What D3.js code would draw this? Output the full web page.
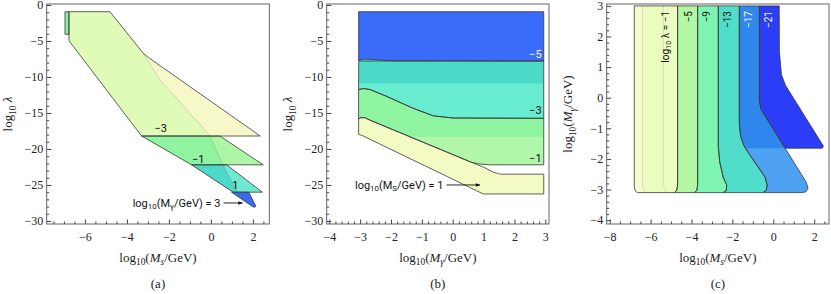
<!DOCTYPE html>
<html>
<head>
<meta charset="utf-8">
<script src="https://cdn.jsdelivr.net/npm/d3@7"></script>
<style>
body { margin: 0; background: #fff; }
svg { display: block; }
.tick text { font-family: "Liberation Serif", "DejaVu Serif", serif; font-size: 12px; fill: #222; }
.tick line { stroke: #444; }
.ax { font-family: "Liberation Serif", serif; font-size: 13px; fill: #222; }
.lbl { font-family: Roboto, "Open Sans", sans-serif; }
</style>
</head>
<body>
<svg id="chart" width="831" height="294"></svg>
<script>

// ---- panel (a): log10 lambda vs log10 Ms, one band per log10 Mgamma
var aXTicks = [-6, -4, -2, 0, 2];
var lamTicks = [0, -5, -10, -15, -20, -25, -30];
var aYellow = [[-6.76,-0.93],[-4.81,-0.93],[-3.22,-6.71],[-2.9,-7.45],[2.35,-18.2],[-3.3,-18.2],[-6.58,-5.65],[-6.7,-5.2],[-6.76,-4.9]];
var aBody   = [[-6.76,-0.93],[-4.81,-0.93],[-3.22,-6.71],[-2.43,-10.4],[-1.56,-13.2],[-1.16,-14.6],[-0.5,-16.6],[-0.05,-18.2],[-3.3,-18.2],[-6.58,-5.65],[-6.7,-5.2],[-6.76,-4.9]];
var aStrip  = [[-6.95,-0.93],[-6.76,-0.93],[-6.76,-4.07],[-6.95,-4.07]];
var aGreen  = [[-3.3,-18.2],[0.43,-18.2],[2.49,-22.2],[-0.92,-22.2]];
var aGreenL = [[-3.3,-18.2],[-0.05,-18.2],[0.58,-22.2],[-0.92,-22.2]];
var aTeal   = [[-0.92,-22.2],[0.75,-22.2],[2.45,-26.0],[1.06,-26.0]];
var aTealL  = [[-0.92,-22.2],[0.58,-22.2],[1.25,-26.0],[1.06,-26.0]];
var aBlue   = [[0.98,-26.0],[1.8,-26.0],[2.14,-27.95],[2.07,-28.1],[1.98,-28.0]];
var aHidden = [[-3.22,-6.71],[-2.43,-10.4],[-1.56,-13.2],[-1.16,-14.6],[-0.5,-16.6],[-0.05,-18.2],[0.58,-22.2],[1.25,-26.0]];
var aLabels = ["\u22123", "\u22121", "1"];
var aLabelAt = [[-2.39,-17.2],[-0.6,-21.4],[1.16,-25.1]];
var aArrow = [[0.6,-27.5],[1.5,-27.5]];

// ---- panel (b): log10 lambda vs log10 Mgamma, one band per log10 Ms
var bXTicks = [-4, -3, -2, -1, 0, 1, 2, 3];
var bBlue  = [[-3.05,-0.93],[2.95,-0.93],[2.95,-7.78],[-3.05,-7.78]];
var bTeal  = [[-3.05,-7.95],[-3.0,-7.6],[-2.85,-7.5],[-2.5,-7.6],[-2.0,-7.74],[2.95,-7.78],[2.95,-15.74],[0.02,-15.7],[-0.63,-15.4],[-1.28,-14.35],[-2.14,-12.7],[-2.68,-11.74],[-2.9,-11.6],[-3.05,-11.75]];
var bTealL = [[-3.05,-10.9],[2.95,-10.9],[2.95,-15.74],[0.02,-15.7],[-0.63,-15.4],[-1.28,-14.35],[-2.14,-12.7],[-2.68,-11.74],[-2.9,-11.6],[-3.05,-11.75]];
var bGreen = [[-3.05,-11.75],[-2.9,-11.6],[-2.68,-11.74],[-2.14,-12.7],[-1.28,-14.35],[-0.63,-15.4],[0.02,-15.7],[2.95,-15.74],[2.95,-22.2],[1.2,-22.2],[0.85,-22.08],[0.6,-21.84],[-2.68,-16.0],[-2.85,-15.65],[-2.98,-15.65],[-3.05,-15.85]];
var bGreenL = [[-1.41,-18.3],[2.95,-18.3],[2.95,-22.2],[1.2,-22.2],[0.85,-22.08],[0.6,-21.84]];
var bYellow = [[-3.05,-15.85],[-2.98,-15.65],[-2.85,-15.65],[-2.68,-16.0],[0.6,-21.84],[0.99,-22.5],[1.3,-23.2],[1.55,-23.5],[2.95,-23.5],[2.95,-26.25],[0.99,-26.25],[-2.9,-18.2],[-3.05,-17.95]];
var bLabels = ["\u22125", "\u22123", "\u22121"];
var bLabelAt = [[2.88,-6.94],[2.88,-14.7],[2.88,-21.3]];
var bArrow = [[-0.2,-25.0],[0.88,-25.0]];

// ---- panel (c): log10 Mgamma vs log10 Ms, one strip per log10 lambda
var cXTicks = [-8, -6, -4, -2, 0, 2];
var cYTicks = [3, 2, 1, 0, -1, -2, -3, -4];
var cLeft = [[-6.8,3.0],[-6.8,-2.9],[-6.76,-3.04],[-6.65,-3.1]];
var cB1 = [[-4.68,3.0],[-4.68,-2.85],[-4.72,-3.03],[-4.84,-3.1]];
var cB2 = [[-3.7,3.0],[-3.7,-2.85],[-3.74,-3.03],[-3.86,-3.1]];
var cB3 = [[-2.69,3.0],[-2.69,-1.6],[-2.62,-2.1],[-2.45,-2.6],[-2.28,-2.85],[-2.3,-3.03],[-2.45,-3.1]];
var cB4 = [[-1.66,3.0],[-1.66,-0.9],[-1.6,-1.25],[-1.45,-1.55],[-1.22,-1.8],[-0.4,-2.6],[-0.3,-2.85],[-0.34,-3.02],[-0.5,-3.1]];
var cB5 = [[-0.68,3.0],[-0.68,-0.1],[-0.6,-0.38],[1.6,-2.75],[1.7,-2.95],[1.6,-3.07],[1.45,-3.1]];
var cDeep = [[-0.68,3.0],[0.29,3.0],[0.3,1.5],[0.4,0.75],[0.6,0.4],[2.45,-1.58],[2.4,-1.65],[0.58,-1.65],[-0.6,-0.38],[-0.68,-0.1]];
var cMid = [[-1.66,3.0],[-0.68,3.0],[-0.68,-0.1],[-0.6,-0.38],[0.58,-1.65],[-1.36,-1.65],[-1.45,-1.55],[-1.6,-1.25],[-1.66,-0.9]];
var cPale = [[-6.8,3.0],[-6.4,3.0],[-6.4,-2.9],[-6.33,-3.1],[-6.65,-3.1],[-6.76,-3.04],[-6.8,-2.9]];
var cFaint = [[[-6.4,3.0],[-6.4,-2.9],[-6.3,-3.08]], [[-5.38,3.0],[-5.38,-2.85],[-5.25,-3.08]]];
var cLabels = ["\u22125", "\u22129", "\u221213", "\u221217", "\u221221"];
var cLabelX = [-5.3, -4.15, -3.26, -2.25, -1.22, -0.24];

var svg = d3.select("#chart");
var line = function(x, y) { return d3.line().x(function(d) { return x(d[0]); }).y(function(d) { return y(d[1]); }); };
var dark = "#3a3a3a";

var ax = d3.scaleLinear().domain([-7.82, 2.78]).range([46.7, 269.3]);
var lamY = d3.scaleLinear().domain([0.14, -30.42]).range([4, 224]);
var bx = d3.scaleLinear().domain([-4.084, 3.12]).range([326.7, 549]);
var cx = d3.scaleLinear().domain([-8.147, 2.724]).range([606.7, 829]);
var cy = d3.scaleLinear().domain([3.062, -4.127]).range([4, 224]);

function fillPoly(pts, x, y, color) {
  svg.append("path").attr("d", line(x, y)(pts) + "Z").attr("fill", color).attr("stroke", "none");
}
function strokePoly(pts, x, y, color, closed) {
  svg.append("path").attr("d", line(x, y)(pts) + (closed === false ? "" : "Z"))
    .attr("fill", "none").attr("stroke", color || dark).attr("stroke-width", 0.8)
    .attr("stroke-linejoin", "round");
}

// rich text with subscripts / italics
function rich(sel, parts, size) {
  var shifted = false;
  parts.forEach(function(p) {
    var f = p[1] || "";
    var t = sel.append("tspan").text(p[0]);
    if (f.indexOf("i") >= 0) t.attr("font-style", "italic");
    var sub = f.indexOf("s") >= 0;
    if (sub) t.style("font-size", (size * 0.72) + "px");
    if (sub && !shifted) t.attr("dy", size * 0.3);
    if (!sub && shifted) t.attr("dy", -size * 0.3);
    shifted = sub;
  });
}

function frame(x, y, xt, xStep, yt, yStep, xLab, yLab, cap) {
  var x0 = x.range()[0], x1 = x.range()[1], y0 = y.range()[0], y1 = y.range()[1];
  var xd = x.domain(), yd = y.domain();
  var xMinor = d3.range(Math.ceil(xd[0] / xStep) * xStep, xd[1], xStep).filter(function(v) { return xt.indexOf(Math.round(v * 100) / 100) < 0; });
  var yMinor = d3.range(Math.ceil(yd[1] / yStep) * yStep, yd[0], yStep).filter(function(v) { return yt.indexOf(Math.round(v * 100) / 100) < 0; });
  var fmt = d3.format("d");
  var tb = "translate(0," + y1 + ")", tl = "translate(" + x0 + ",0)";
  svg.append("g").attr("transform", tb)
    .call(d3.axisBottom(x).tickValues(xMinor).tickFormat("").tickSize(-2.5).tickSizeOuter(0))
    .call(function(g) { g.select(".domain").remove(); });
  svg.append("g").attr("transform", tb)
    .call(d3.axisBottom(x).tickValues(xt).tickFormat(fmt).tickSize(-4.5).tickSizeOuter(0).tickPadding(8.5))
    .call(function(g) { g.select(".domain").remove(); });
  svg.append("g").attr("transform", tl)
    .call(d3.axisLeft(y).tickValues(yMinor).tickFormat("").tickSize(-2.5).tickSizeOuter(0))
    .call(function(g) { g.select(".domain").remove(); });
  svg.append("g").attr("transform", tl)
    .call(d3.axisLeft(y).tickValues(yt).tickFormat(fmt).tickSize(-4.5).tickSizeOuter(0).tickPadding(3.5))
    .call(function(g) { g.select(".domain").remove(); });
  svg.append("rect").attr("x", x0).attr("y", y0).attr("width", x1 - x0).attr("height", y1 - y0)
    .attr("fill", "none").attr("stroke", "#555").attr("stroke-width", 0.9);
  var cxm = (x0 + x1) / 2;
  rich(svg.append("text").attr("class", "ax").attr("x", cxm).attr("y", 261.5).attr("text-anchor", "middle"), xLab, 13);
  rich(svg.append("text").attr("class", "ax").attr("text-anchor", "middle")
    .attr("transform", "translate(" + (x0 - 35) + "," + ((y0 + y1) / 2) + ") rotate(-90)"), yLab, 13);
  svg.append("text").attr("class", "ax").attr("x", cxm).attr("y", 288).attr("text-anchor", "middle").text(cap);
}

function label(x, y, pt, txt, color, anchor) {
  svg.append("text").attr("class", "lbl").attr("x", x(pt[0])).attr("y", y(pt[1]))
    .attr("text-anchor", anchor || "middle").attr("dominant-baseline", "central")
    .style("fill", color || "#111").style("font-size", "11px").text(txt);
}

svg.append("defs").append("marker").attr("id", "ah").attr("viewBox", "0 0 10 10")
  .attr("refX", 9).attr("refY", 5).attr("markerWidth", 6).attr("markerHeight", 5).attr("orient", "auto")
  .append("path").attr("d", "M0,1L10,5L0,9Z").attr("fill", "#111");

function arrow(x, y, pts) {
  svg.append("path").attr("d", line(x, y)(pts)).attr("stroke", "#111").attr("stroke-width", 0.9)
    .attr("fill", "none").attr("marker-end", "url(#ah)");
}

var msLab = [["log"], ["10", "s"], ["("], ["M", "i"], ["s", "si"], ["/GeV)"]];
var mgLab = [["log"], ["10", "s"], ["("], ["M", "i"], ["\u03b3", "si"], ["/GeV)"]];
var lamLab = [["log"], ["10", "s"], [" "], ["\u03bb", "i"]];

// ---- (a)
fillPoly(aYellow, ax, lamY, "#f7f8c9");
fillPoly(aBody, ax, lamY, "#dffbb7");
fillPoly(aStrip, ax, lamY, "#8df19f");
fillPoly(aGreen, ax, lamY, "#adf6a6");
fillPoly(aGreenL, ax, lamY, "#8ff3a0");
fillPoly(aTeal, ax, lamY, "#6fe9cf");
fillPoly(aTealL, ax, lamY, "#4dd9c9");
fillPoly(aBlue, ax, lamY, "#3a6af0");
strokePoly(aHidden, ax, lamY, "rgba(110,120,90,0.3)", false);
[aYellow, aStrip, aGreen, aTeal, aBlue].forEach(function(p) { strokePoly(p, ax, lamY); });
aLabels.forEach(function(t, i) { label(ax, lamY, aLabelAt[i], t); });
rich(svg.append("text").attr("class", "lbl").style("font-size", "11px").style("fill", "#111")
  .attr("x", ax(aArrow[0][0]) - 3).attr("y", lamY(aArrow[0][1]))
  .attr("text-anchor", "end").attr("dominant-baseline", "central"),
  [["log"], ["10", "s"], ["(M"], ["\u03b3", "s"], ["/GeV) = 3"]], 11);
arrow(ax, lamY, aArrow);
frame(ax, lamY, aXTicks, 0.5, lamTicks, 1, msLab, lamLab, "(a)");

// ---- (b)
fillPoly(bBlue, bx, lamY, "#3b6cf9");
fillPoly(bTeal, bx, lamY, "#4cd9c8");
fillPoly(bTealL, bx, lamY, "#69edd0");
fillPoly(bGreen, bx, lamY, "#8ff5a1");
fillPoly(bGreenL, bx, lamY, "#b0f7a9");
fillPoly(bYellow, bx, lamY, "#f3fac4");
[bBlue, bTeal, bGreen, bYellow].forEach(function(p) { strokePoly(p, bx, lamY); });
bLabels.forEach(function(t, i) { label(bx, lamY, bLabelAt[i], t, i === 0 ? "#fff" : "#111", "end"); });
rich(svg.append("text").attr("class", "lbl").style("font-size", "11px").style("fill", "#111")
  .attr("x", bx(bArrow[0][0]) - 3).attr("y", lamY(bArrow[0][1]))
  .attr("text-anchor", "end").attr("dominant-baseline", "central"),
  [["log"], ["10", "s"], ["(M"], ["S", "s"], ["/GeV) = 1"]], 11);
arrow(bx, lamY, bArrow);
frame(bx, lamY, bXTicks, 0.2, lamTicks, 1, mgLab, lamLab, "(b)");

// ---- (c)
var cStrips = [
  cB4.concat(cB5.slice().reverse()),
  cB3.concat(cB4.slice().reverse()),
  cB2.concat(cB3.slice().reverse()),
  cB1.concat(cB2.slice().reverse()),
  cLeft.concat(cB1.slice().reverse())
];
var cColors = ["#4fa1f1", "#50ddc9", "#80f5b1", "#b3f8a2", "#ebfcc1"];
fillPoly(cDeep, cx, cy, "#2b3df6");
cStrips.forEach(function(p, i) {
  fillPoly(p, cx, cy, cColors[i]);
  if (i === 0) fillPoly(cMid, cx, cy, "#2f87ee");
});
fillPoly(cPale, cx, cy, "#f7fbd0");
cFaint.forEach(function(p) { strokePoly(p, cx, cy, "rgba(150,160,110,0.35)", false); });
strokePoly(cDeep, cx, cy);
cStrips.forEach(function(p) { strokePoly(p, cx, cy); });

var labTop = cy.invert(11);
svg.append("text").attr("class", "lbl").style("font-size", "10px").style("fill", "#111")
  .attr("transform", "translate(" + cx(cLabelX[0]) + "," + cy(labTop) + ") rotate(-90)")
  .attr("text-anchor", "end").attr("dominant-baseline", "central")
  .call(function(t) { rich(t, [["log"], ["10", "s"], [" \u03bb = \u22121"]], 10); });
cLabels.forEach(function(t, i) {
  svg.append("text").attr("class", "lbl").style("font-size", "10px")
    .attr("transform", "translate(" + cx(cLabelX[i + 1]) + "," + cy(labTop) + ") rotate(-90)")
    .attr("text-anchor", "end").attr("dominant-baseline", "central")
    .style("fill", i >= 3 ? "#fff" : "#111").text(t);
});
frame(cx, cy, cXTicks, 0.5, cYTicks, 0.2, msLab, mgLab, "(c)");

</script>
</body>
</html>
